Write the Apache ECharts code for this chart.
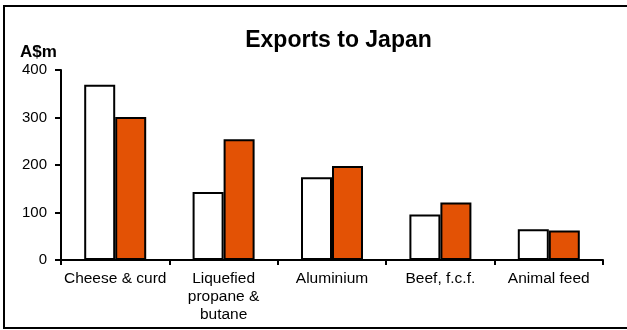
<!DOCTYPE html>
<html>
<head>
<meta charset="utf-8">
<script src="https://cdn.jsdelivr.net/npm/echarts@6/dist/echarts.min.js"></script>
<style>
html,body{margin:0;padding:0;background:#fff;}
#chart{width:627px;height:330px;}
</style>
</head>
<body>
<div id="chart"></div>
<script>
const categories = ['Cheese & curd', 'Liquefied\npropane &\nbutane', 'Aluminium', 'Beef, f.c.f.', 'Animal feed'];
const seriesA = [369, 143, 174, 96, 65];   // white bars
const seriesB = [301, 254, 198, 121, 62];  // orange bars
const yTicks = [0, 100, 200, 300, 400];

const chart = echarts.init(document.getElementById('chart'), null, {renderer: 'canvas'});
const font = 'Arial, "Liberation Sans", sans-serif';
chart.setOption({
  animation: false,
  backgroundColor: '#fff',
  graphic: [
    {type: 'rect', shape: {x: 4, y: 6, width: 660, height: 322},
     style: {fill: 'none', stroke: '#000', lineWidth: 2}, silent: true, z: 100},
    {type: 'text', x: 338.5, y: 29,
     style: {text: 'Exports to Japan', font: 'bold 23px ' + font, fill: '#000', align: 'center', verticalAlign: 'top'}},
    {type: 'text', x: 20, y: 44,
     style: {text: 'A$m', font: 'bold 17px ' + font, fill: '#000', align: 'left', verticalAlign: 'top'}}
  ],
  grid: {left: 61, right: 24, top: 70, bottom: 70, containLabel: false},
  xAxis: {
    type: 'category',
    data: categories,
    axisLine: {lineStyle: {color: '#000', width: 2}},
    axisTick: {show: true, length: 5, lineStyle: {color: '#000', width: 2}},
    axisLabel: {fontFamily: font, fontSize: 15.5, color: '#000', margin: 10, lineHeight: 18, interval: 0}
  },
  yAxis: {
    type: 'value',
    min: 0, max: 400, interval: 100,
    splitLine: {show: false},
    axisLine: {show: true, lineStyle: {color: '#000', width: 2}},
    axisTick: {show: true, length: 6, lineStyle: {color: '#000', width: 2}},
    axisLabel: {fontFamily: font, fontSize: 15, color: '#000', margin: 14,
      formatter: v => yTicks.includes(v) ? String(v) : ''}
  },
  series: [
    {type: 'bar', data: seriesA, barWidth: 31, barGap: '0%',
     itemStyle: {color: '#fff', borderColor: '#000', borderWidth: 2}},
    {type: 'bar', data: seriesB, barWidth: 31,
     itemStyle: {color: '#E35205', borderColor: '#000', borderWidth: 2}}
  ]
});
</script>
</body>
</html>
